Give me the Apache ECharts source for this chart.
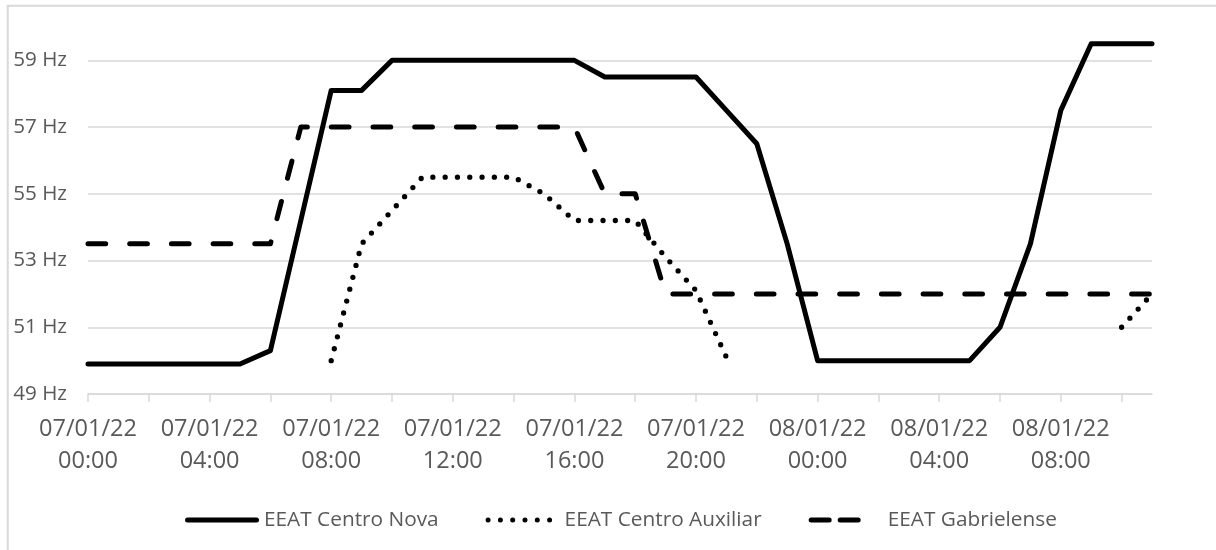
<!DOCTYPE html>
<html>
<head>
<meta charset="utf-8">
<script src="https://cdn.jsdelivr.net/npm/echarts@6/dist/echarts.min.js"></script>
<style>
  html, body { margin: 0; padding: 0; background: #fff; }
  #chart { width: 1216px; height: 550px; }
</style>
</head>
<body>
<div id="chart"></div>
<script>
// Hourly timestamps, 07/01/22 00:00 through 08/01/22 11:00
const categories = [
  '07/01/22\n00:00', '07/01/22\n01:00', '07/01/22\n02:00', '07/01/22\n03:00',
  '07/01/22\n04:00', '07/01/22\n05:00', '07/01/22\n06:00', '07/01/22\n07:00',
  '07/01/22\n08:00', '07/01/22\n09:00', '07/01/22\n10:00', '07/01/22\n11:00',
  '07/01/22\n12:00', '07/01/22\n13:00', '07/01/22\n14:00', '07/01/22\n15:00',
  '07/01/22\n16:00', '07/01/22\n17:00', '07/01/22\n18:00', '07/01/22\n19:00',
  '07/01/22\n20:00', '07/01/22\n21:00', '07/01/22\n22:00', '07/01/22\n23:00',
  '08/01/22\n00:00', '08/01/22\n01:00', '08/01/22\n02:00', '08/01/22\n03:00',
  '08/01/22\n04:00', '08/01/22\n05:00', '08/01/22\n06:00', '08/01/22\n07:00',
  '08/01/22\n08:00', '08/01/22\n09:00', '08/01/22\n10:00', '08/01/22\n11:00'
];

const seriesNames = ['EEAT Centro Nova', 'EEAT Centro Auxiliar', 'EEAT Gabrielense'];

// Frequency readings in Hz (null = no reading)
const centroNova = [
  49.9, 49.9, 49.9, 49.9, 49.9, 49.9, 50.3, 54.2,
  58.1, 58.1, 59.0, 59.0, 59.0, 59.0, 59.0, 59.0,
  59.0, 58.5, 58.5, 58.5, 58.5, 57.5, 56.5, 53.5,
  50.0, 50.0, 50.0, 50.0, 50.0, 50.0, 51.0, 53.5,
  57.5, 59.5, 59.5, 59.5
];
const centroAuxiliar = [
  null, null, null, null, null, null, null, null,
  50.0, 53.5, 54.5, 55.5, 55.5, 55.5, 55.5, 55.0,
  54.2, 54.2, 54.2, 53.1, 52.1, 50.1, null, null,
  null, null, null, null, null, null, null, null,
  null, null, 51.0, 52.0
];
const gabrielense = [
  53.5, 53.5, 53.5, 53.5, 53.5, 53.5, 53.5, 57.0,
  57.0, 57.0, 57.0, 57.0, 57.0, 57.0, 57.0, 57.0,
  57.0, 55.0, 55.0, 52.0, 52.0, 52.0, 52.0, 52.0,
  52.0, 52.0, 52.0, 52.0, 52.0, 52.0, 52.0, 52.0,
  52.0, 52.0, 52.0, 52.0
];

const FONT = '"Open Sans", "Noto Sans", sans-serif';
const TEXT = '#595959';
const GRID = '#d9d9d9';

// Legend keys drawn as 74x5 paths: a solid bar, a row of dots, two dashes.
// The trailing moveTo keeps every key's box the same width.
function dotsPath(n, step, r) {
  let d = '';
  for (let i = 0; i < n; i++) {
    const cx = r + i * step;
    d += `M${cx - r},${r} a${r},${r} 0 1 0 ${2 * r},0 a${r},${r} 0 1 0 ${-2 * r},0 Z `;
  }
  return d;
}
const legendIcons = [
  'path://M2.5,0 H71.5 A2.5,2.5 0 0 1 71.5,5 H2.5 A2.5,2.5 0 0 1 2.5,0 Z',
  'path://M0,0 ' + dotsPath(6, 12.3, 2.5) + 'M74,5',
  'path://M2.5,0 H20.5 A2.5,2.5 0 0 1 20.5,5 H2.5 A2.5,2.5 0 0 1 2.5,0 Z ' +
    'M31.5,0 H49.5 A2.5,2.5 0 0 1 49.5,5 H31.5 A2.5,2.5 0 0 1 31.5,0 Z M0,0 M74,5'
];

const chart = echarts.init(document.getElementById('chart'), null, { renderer: 'canvas' });

chart.setOption({
  animation: false,
  backgroundColor: '#ffffff',
  graphic: [{
    type: 'rect',
    silent: true,
    z: -10,
    shape: { x: 7.75, y: 5.75, width: 1400, height: 700 },
    style: { fill: 'none', stroke: GRID, lineWidth: 2 }
  }],
  grid: { left: 88, right: 64, top: 27, bottom: 156, containLabel: false },
  legend: {
    left: 180,
    top: 501,
    itemWidth: 74,
    itemHeight: 5,
    itemGap: 47,
    textStyle: { color: TEXT, fontFamily: FONT, fontSize: 20.8, lineHeight: 28 },
    data: seriesNames.map((name, i) => ({ name: name, icon: legendIcons[i] }))
  },
  xAxis: {
    type: 'category',
    boundaryGap: false,
    data: categories,
    axisLine: { show: true, lineStyle: { color: GRID, width: 1.5 } },
    axisTick: { show: true, interval: 1, length: 8, lineStyle: { color: GRID, width: 1.5 } },
    axisLabel: {
      interval: 3,
      margin: 19,
      color: TEXT,
      fontFamily: FONT,
      fontSize: 23.5,
      lineHeight: 32.5,
      align: 'center'
    },
    splitLine: { show: false }
  },
  yAxis: {
    type: 'value',
    min: 49,
    max: 60,
    interval: 2,
    axisLine: { show: false },
    axisTick: { show: false },
    axisLabel: {
      formatter: '{value} Hz',
      margin: 21,
      color: TEXT,
      fontFamily: FONT,
      fontSize: 20.6,
      showMaxLabel: false
    },
    splitLine: { show: true, showMaxLine: false, lineStyle: { color: GRID, width: 1.5 } }
  },
  series: [
    {
      name: seriesNames[0],
      type: 'line',
      data: centroNova,
      symbol: 'none',
      lineStyle: { color: '#000', width: 5, cap: 'round', join: 'round' },
      itemStyle: { color: '#000' },
      z: 3
    },
    {
      name: seriesNames[1],
      type: 'line',
      data: centroAuxiliar,
      symbol: 'none',
      connectNulls: false,
      lineStyle: { color: '#000', width: 5.3, type: [0, 12.3], cap: 'round', join: 'round' },
      itemStyle: { color: '#000' },
      z: 2
    },
    {
      name: seriesNames[2],
      type: 'line',
      data: gabrielense,
      symbol: 'none',
      lineStyle: { color: '#000', width: 5, type: [17.7, 24], cap: 'round', join: 'round' },
      itemStyle: { color: '#000' },
      z: 2
    }
  ]
});
</script>
</body>
</html>
